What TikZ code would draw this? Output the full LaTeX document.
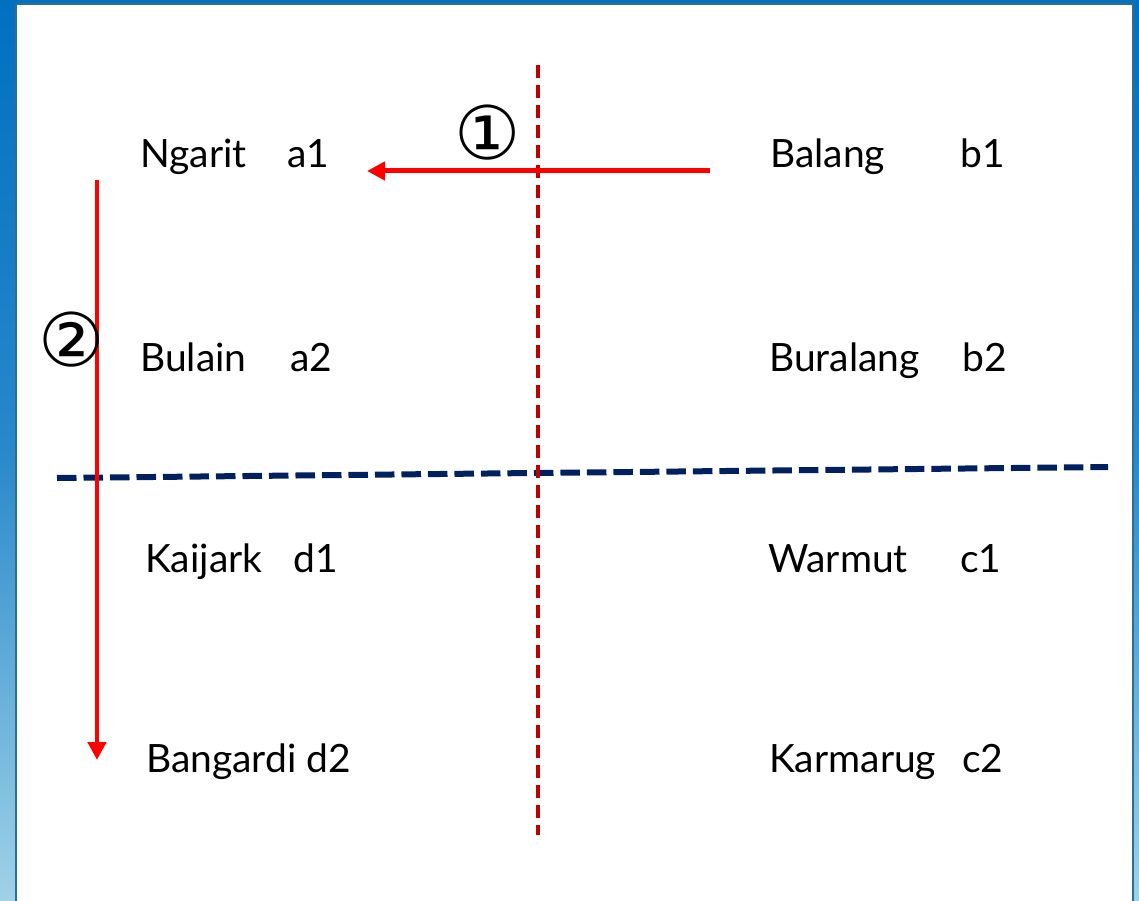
\documentclass[tikz,border=0pt]{standalone}
\usepackage{fontspec}
\setmainfont{Lato}
\newfontfamily\symfont{DejaVu Sans}
\usetikzlibrary{arrows.meta}
\definecolor{frameblue}{HTML}{0070C0}
\definecolor{framelight}{HTML}{A0D2E8}
\definecolor{frameedge}{HTML}{2E6E8E}
\definecolor{navy}{HTML}{002060}
\definecolor{darkred}{HTML}{C00000}
\definecolor{brightred}{HTML}{FF0000}
\tikzset{
  lbl/.style={anchor=base west, inner sep=0pt, font=\fontsize{39}{44}\selectfont},
  circnum/.style={inner sep=0pt, font=\symfont\fontsize{74}{74}\selectfont},
  redarrow/.style={draw=brightred, -{Triangle[length=18pt,width=18pt]}},
}
\begin{document}
\begin{tikzpicture}[x=1pt,y=-1pt]
\useasboundingbox (0,0) rectangle (1139,901);
\shade[top color=frameblue, bottom color=framelight, middle color=frameblue!75!framelight] (0,0) rectangle (1139,901);
\fill[white, draw=frameedge, line width=1.5pt] (16,4) rectangle (1133,905);
% labels
\node[lbl] (a1) at (140,168) {\makebox[147pt][l]{Ngarit}a1};
\node[lbl] (a2) at (140,371) {\makebox[150pt][l]{Bulain}a2};
\node[lbl] (d1) at (145,572) {\makebox[148pt][l]{Kaijark}d1};
\node[lbl] (d2) at (146,772) {Bangardi d2};
\node[lbl] (b1) at (770,168) {\makebox[190pt][l]{Balang}b1};
\node[lbl] (b2) at (769,371) {\makebox[193pt][l]{Buralang}b2};
\node[lbl] (c1) at (768,572) {\makebox[192pt][l]{Warmut}c1};
\node[lbl] (c2) at (769,772) {\makebox[193pt][l]{Karmarug}c2};
% dividing lines
\coordinate (vt) at (538,65);
\coordinate (vb) at (538,835);
\coordinate (hl) at (57,478);
\coordinate (hr) at (1108,467);
\draw[navy, line width=6pt, dash pattern=on 19.5pt off 7pt] (hl) -- (hr);
\draw[darkred, line width=3.5pt, dash pattern=on 13pt off 7pt] (vt) -- (vb);
% arrows
\coordinate (s1) at (710,171);
\coordinate (e1) at (367,171);
\coordinate (s2) at (97,180);
\coordinate (e2) at (97,760);
\draw[redarrow, line width=5pt] (s1) -- (e1);
\draw[redarrow, line width=4.5pt] (s2) -- (e2);
\node[circnum] (n1) at (488,133) {①};
\node[circnum] (n2) at (72,340) {②};
\end{tikzpicture}
\end{document}
